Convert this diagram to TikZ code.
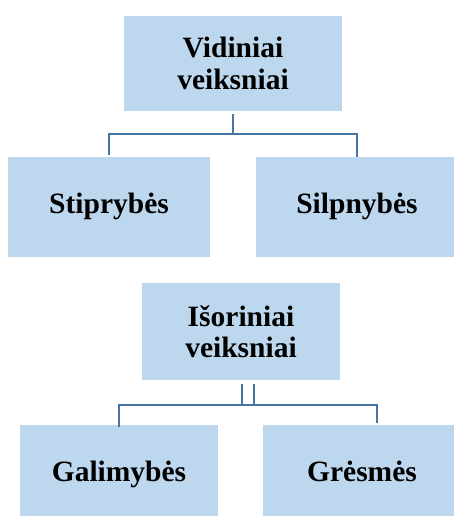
\documentclass[tikz,border=0pt]{standalone}
\usepackage{fontspec}
\setmainfont{Liberation Serif}
\begin{document}
\begin{tikzpicture}[x=1pt,y=-1pt,
  box/.style={draw=none,fill={rgb,255:red,189;green,215;blue,238},minimum width=#1,inner sep=0pt,align=center,
    font=\fontsize{29.5}{31.5}\selectfont\bfseries},
  single/.style={text height=20pt,text depth=6.5pt},
  link/.style={draw={rgb,255:red,70;green,118;blue,165},line width=2.8pt}]
\useasboundingbox (0,0) rectangle (454,516);
\clip (0,0) rectangle (454,516);
\node[box=218pt,minimum height=95pt] (v) at (233,63.5) {Vidiniai\\veiksniai};
\node[box=202pt,minimum height=100pt,single] (s) at (109,207) {Stiprybės};
\node[box=202pt,minimum height=100pt,single] (w) at (357,207) {Silpnybės};
\node[box=198pt,minimum height=97pt] (i) at (241,331.5) {Išoriniai\\veiksniai};
\node[box=198pt,minimum height=100pt,single] (g) at (119,475) {Galimybės};
\node[box=198pt,minimum height=100pt,single] (r) at (362,475) {Grėsmės};
\coordinate (vj) at (233,134);
\coordinate (ja) at (242,405);
\coordinate (jb) at (254,405);
\coordinate (jr) at (377,405);
\draw[link,shorten <=3pt] (v.south) -- (vj);
\draw[link,shorten >=2pt] (s.north) ++(0,-2) |- (vj) -| ([yshift=-2pt]w.north);
\draw[link,shorten <=4pt] (i.south -| ja) -- (ja);
\draw[link,shorten <=4pt] (i.south -| jb) -- (jb);
\draw[link,shorten >=2pt] ([yshift=-2pt]g.north) -- (g.north |- ja) -- (jr) -- (jr |- r.north);
\end{tikzpicture}
\end{document}
